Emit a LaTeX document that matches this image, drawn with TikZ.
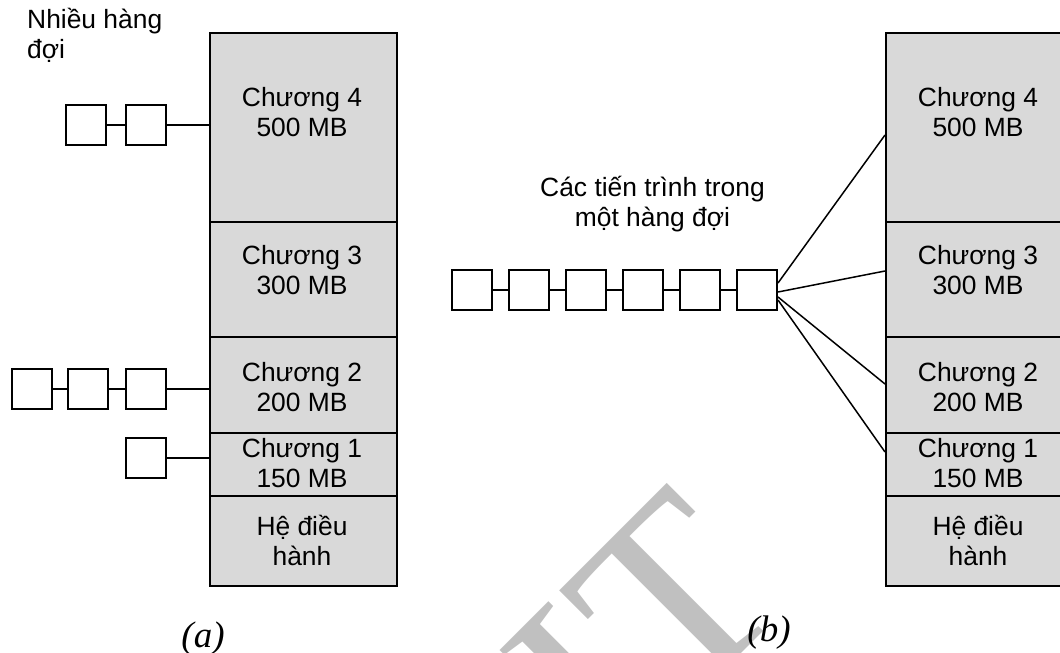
\documentclass[tikz,border=0pt]{standalone}
\usepackage{fontspec}
\setmainfont{Liberation Sans}
\newfontfamily\wmfont{Liberation Serif}
\usetikzlibrary{calc}
\definecolor{cellgray}{RGB}{217,217,217}
\definecolor{wmgray}{RGB}{192,192,192}
\begin{document}
\begin{tikzpicture}[x=1pt,y=-1pt,
  cell/.style={draw, line width=2pt, fill=cellgray, minimum width=187pt, inner sep=0pt},
  qbox/.style={draw, line width=2pt, fill=white, minimum width=40pt, minimum height=40pt, inner sep=0pt},
  lbl/.style={font=\fontsize{26.4pt}{30pt}\selectfont, align=center, inner sep=0pt},
  figlbl/.style={font=\wmfont\itshape\fontsize{37pt}{40pt}\selectfont, inner sep=0pt, anchor=base},
  link/.style={line width=1.5pt}]
\useasboundingbox (0,0) rectangle (1060,653);
\clip (0,0) rectangle (1060,653);
% watermark
\node[text=wmgray, font=\wmfont\fontsize{264pt}{264pt}\selectfont, rotate=45, anchor=base west, inner sep=0pt] (wm) at (398,997) {PTIT};

% (a) memory column
\node[cell, minimum height=189pt] (a4) at (303.5,127.5) {};
\node[cell, minimum height=115pt] (a3) at (303.5,279.5) {};
\node[cell, minimum height=96pt]  (a2) at (303.5,385) {};
\node[cell, minimum height=63pt]  (a1) at (303.5,464.5) {};
\node[cell, minimum height=90pt]  (a0) at (303.5,541) {};
\node[lbl] (ta4) at (302,112.4) {Chương 4\\500 MB};
\node[lbl] (ta3) at (302,270.4) {Chương 3\\300 MB};
\node[lbl] (ta2) at (302,387.4) {Chương 2\\200 MB};
\node[lbl] (ta1) at (302,463.4) {Chương 1\\150 MB};
\node[lbl] (ta0) at (302,540) {Hệ điều\\hành};

% (b) memory column
\node[cell, minimum height=189pt] (b4) at (979.5,127.5) {};
\node[cell, minimum height=115pt] (b3) at (979.5,279.5) {};
\node[cell, minimum height=96pt]  (b2) at (979.5,385) {};
\node[cell, minimum height=63pt]  (b1) at (979.5,464.5) {};
\node[cell, minimum height=90pt]  (b0) at (979.5,541) {};
\node[lbl] (tb4) at (978,112.4) {Chương 4\\500 MB};
\node[lbl] (tb3) at (978,270.4) {Chương 3\\300 MB};
\node[lbl] (tb2) at (978,387.4) {Chương 2\\200 MB};
\node[lbl] (tb1) at (978,463.4) {Chương 1\\150 MB};
\node[lbl] (tb0) at (978,540) {Hệ điều\\hành};

% (a) queues
\node[lbl, align=left, anchor=west] (multi) at (27,35) {Nhiều hàng\\đợi};
\node[qbox] (p41) at (86,125) {};
\node[qbox] (p42) at (146,125) {};
\draw[link] (p41.east) -- (p42.west);
\draw[link] (p42.east) -- (p42.east -| a4.west);

\node[qbox] (p21) at (32,389) {};
\node[qbox] (p22) at (88,389) {};
\node[qbox] (p23) at (146,389) {};
\draw[link] (p21.east) -- (p22.west);
\draw[link] (p22.east) -- (p23.west);
\draw[link] (p23.east) -- (p23.east -| a2.west);

\node[qbox] (p11) at (146,458) {};
\draw[link] (p11.east) -- (p11.east -| a1.west);

% (b) single queue
\node[lbl] (single) at (652.5,204) {Các tiến trình trong\\một hàng đợi};
\foreach \i/\x in {1/472,2/529,3/586,4/643,5/700,6/757}{
  \node[qbox] (r\i) at (\x,290) {};
}
\foreach \i/\j in {1/2,2/3,3/4,4/5,5/6}{
  \draw[link] (r\i.east) -- (r\j.west);
}
\draw[link] ([yshift=7pt]r6.east) -- ([yshift=-7.5pt]b4.west);
\draw[link] ([yshift=-2pt]r6.east) -- ([yshift=8.5pt]b3.west);
\draw[link] ([yshift=-7pt]r6.east) -- ([yshift=1pt]b2.west);
\draw[link] ([yshift=-10pt]r6.east) -- ([yshift=12.5pt]b1.west);

% figure labels
\node[figlbl] (capa) at (203,647) {(a)};
\node[figlbl] (capb) at (769,641) {(b)};
\end{tikzpicture}
\end{document}
